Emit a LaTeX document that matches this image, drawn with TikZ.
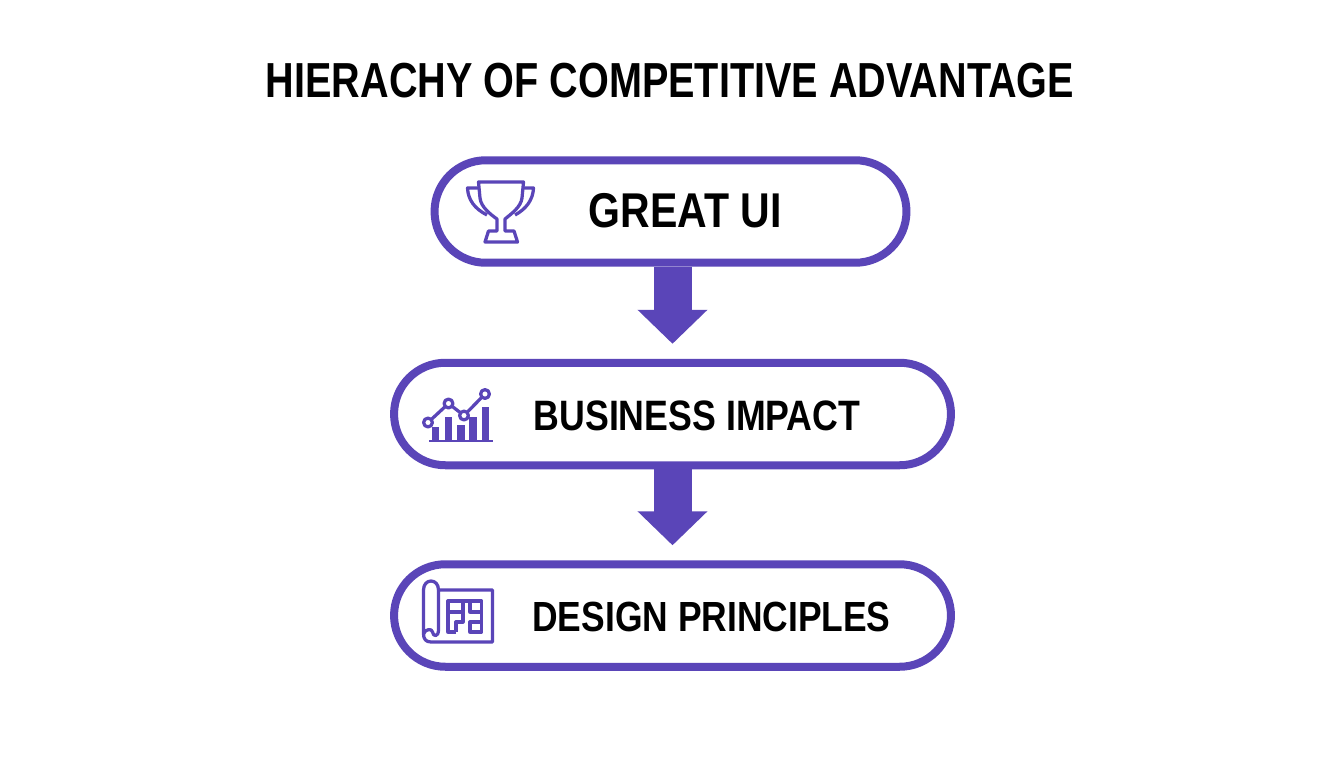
\documentclass[tikz,border=0pt]{standalone}
\usepackage{fontspec}
\usetikzlibrary{arrows.meta,shapes.misc}
\newfontfamily\hfont[FakeStretch=0.84]{Liberation Sans}
\newfontfamily\titelfont[FakeStretch=0.805]{Liberation Sans}
\definecolor{lila}{HTML}{5A45B8}
\tikzset{
  pill/.style={rounded rectangle,draw=lila,line width=0.16cm,fill=white,minimum height=2.05cm,inner sep=0pt},
  pilltext/.style={inner sep=0pt,font=\hfont\bfseries\fontsize{24}{26}\selectfont,text=black},
  downarrow/.style={draw=lila,line width=0.76cm,shorten >=0.3cm,-{Triangle[width=1.36cm,length=0.68cm]}},
  icon/.style={draw=lila,line width=0.065cm,line join=round},
}
\begin{document}
\begin{tikzpicture}[x=0.02cm,y=-0.02cm]
\useasboundingbox (0,0) rectangle (1344,768);
\fill[white] (0,0) rectangle (1344,768);
\node[inner sep=0pt,font=\titelfont\bfseries\fontsize{28}{32}\selectfont] (titel) at (670,81) {HIERACHY OF COMPETITIVE ADVANTAGE};
%Die drei Kapseln
\node[pill,minimum width=9.44cm] (great) at (670.5,211.5) {};
\node[pill,minimum width=11.14cm] (impact) at (672.5,414) {};
\node[pill,minimum width=11.14cm] (design) at (672.5,615.5) {};
\draw[downarrow] (impact.north |- great.south) -- (impact.north);
\draw[downarrow] (impact.south) -- (design.north);
\node[pilltext,font=\hfont\bfseries\fontsize{27.8}{32}\selectfont] (greattext) at (685,211) {GREAT UI};
\node[pilltext,font=\hfont\bfseries\fontsize{24.2}{26}\selectfont] (impacttext) at (697,415.5) {BUSINESS IMPACT};
\node[pilltext] (designtext) at (711.5,617) {DESIGN PRINCIPLES};
%Pokal
\draw[icon] (478.5,182) -- (523.5,182) -- (522,198) .. controls (521,207) and (511,214) .. (505,219) -- (505,231) -- (514,231) -- (517.5,242) -- (485,242) -- (488.5,231) -- (497,231) -- (497,219) .. controls (490,214) and (481,207) .. (480,198) -- cycle;
\draw[icon] (479,188) -- (467.5,188) .. controls (468,200) and (475,209) .. (487,215);
\draw[icon] (523,188) -- (533.5,188) .. controls (533,200) and (526,209) .. (515,215);
%Balken und Kurve
\fill[lila] (428.5,439.5) rectangle (493,442);
\foreach \xa/\xb/\ytop in {431.5/439/427,444.5/452/417,457/464.5/424.5,469/476.5/417,481.5/489/407}{
\fill[lila] (\xa,441) rectangle (\xb,\ytop);
}
\draw[icon] (428,422.5) -- (448.5,403.5) -- (464,415.5) -- (485,394);
\foreach \xa/\ya in {428/422.5,448.5/403.5,464/415.5,485/394}{
\draw[icon,fill=white] (\xa,\ya) circle (4.4);
}
%Bauplan
\draw[icon] (438.5,590) -- (492.5,590) -- (492.5,642) -- (431,642) .. controls (426,642) and (423.5,639) .. (423.5,634) -- (423.5,590) .. controls (423.5,578) and (438.5,578) .. (438.5,590) -- (438.5,630) .. controls (438.5,637) and (433,637) .. (432.5,632) .. controls (432,628) and (425,629) .. (423.5,634);
\draw[icon] (456,632) -- (448,632) -- (448,601) -- (481.5,601) -- (481.5,632) -- (470,632) -- (470,622) -- (481.5,622);
\draw[icon] (448,612) -- (463,612) -- (463,601);
\draw[icon] (456,632) -- (456,622) -- (463,622) -- (463,612);
\draw[icon] (470,601) -- (470,612) -- (481.5,612);
\end{tikzpicture}
\end{document}
